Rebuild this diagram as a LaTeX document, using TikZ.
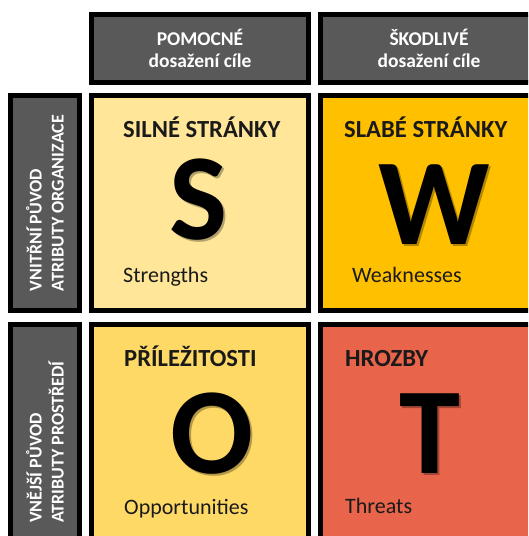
\documentclass[tikz,border=0pt]{standalone}
\usepackage{fontspec}
\setmainfont{Carlito}
\usetikzlibrary{positioning}
\definecolor{headgray}{HTML}{595959}
\definecolor{strengthfill}{HTML}{FFE699}
\definecolor{weakfill}{HTML}{FFC000}
\definecolor{oppfill}{HTML}{FFD966}
\definecolor{threatfill}{HTML}{E8644A}
\definecolor{ink}{HTML}{1A1A1A}
% big letter with a soft cast shade behind it
\newcommand\shadedletter[2]{%
  \makebox[0pt][l]{\hspace{2pt}\raisebox{-2pt}{\color{black!30!#1}#2}}#2}

\begin{document}
\begin{tikzpicture}[
    x = 1pt, y = -1pt,
    cell/.style={rectangle, draw=black, line width=5pt, inner sep=0pt},
    headbox/.style={cell, fill=headgray, minimum width=217pt, minimum height=68pt},
    sidebox/.style={cell, fill=headgray, minimum width=69pt},
    quad/.style={cell, minimum width=217pt},
    headtext/.style={text=white, align=center, inner sep=0pt,
        font=\bfseries\fontsize{19.5}{22}\selectfont},
    sidetext/.style={text=white, align=left, inner sep=0pt, rotate=90,
        font=\bfseries\fontsize{18}{22}\selectfont},
    title/.style={text=ink, inner sep=0pt, anchor=base west,
        font=\bfseries\fontsize{24.6}{28}\selectfont},
    subtitle/.style={text=ink, inner sep=0pt, anchor=base west,
        font=\fontsize{22}{26}\selectfont},
    letter/.style={text=black, inner sep=0pt, anchor=base,
        font=\bfseries\fontsize{123}{130}\selectfont}
]
    \useasboundingbox (0,0) rectangle (528,536);
    \clip (0,0) rectangle (528,536);

    % column headers
    \node[headbox] (help) at (200,48.5) {};
    \node[headbox] (harm) at (429,48.5) {};
    \node[headtext] (help-txt) at (help) {POMOCNÉ\\dosažení cíle};
    \node[headtext] (harm-txt) at (harm) {ŠKODLIVÉ\\dosažení cíle};

    % row headers
    \node[sidebox, minimum height=215pt] (inner) at (45,203) {};
    \node[sidebox, minimum height=235pt] (outer) at (45,442) {};
    \node[sidetext] (inner-txt) at (inner) {VNITŘNÍ PŮVOD\\ATRIBUTY ORGANIZACE};
    \node[sidetext] (outer-txt) at (outer) {VNĚJŠÍ PŮVOD\\ATRIBUTY PROSTŘEDÍ};

    % the four fields
    \node[quad, fill=strengthfill, minimum height=215pt] (S) at (200,203) {};
    \node[quad, fill=weakfill, minimum height=215pt] (W) at (429,203) {};
    \node[quad, fill=oppfill, minimum height=235pt] (O) at (200,442) {};
    \node[quad, fill=threatfill, minimum height=235pt] (T) at (429,442) {};

    % strengths
    \node[title] (S-title) at (123,137) {SILNÉ STRÁNKY};
    \node[letter] (S-letter) at (199,239) {\shadedletter{strengthfill}{S}};
    \node[subtitle] (S-sub) at (123,282) {Strengths};

    % weaknesses
    \node[title] (W-title) at (344,137) {SLABÉ STRÁNKY};
    \node[letter] (W-letter) at (434,244) {\shadedletter{weakfill}{W}};
    \node[subtitle] (W-sub) at (352,282) {Weaknesses};

    % opportunities
    \node[title] (O-title) at (124,366) {PŘÍLEŽITOSTI};
    \node[letter] (O-letter) at (212,473) {\shadedletter{oppfill}{O}};
    \node[subtitle] (O-sub) at (124,514) {Opportunities};

    % threats
    \node[title] (T-title) at (345,366) {HROZBY};
    \node[letter] (T-letter) at (430,473) {\shadedletter{threatfill}{T}};
    \node[subtitle] (T-sub) at (345,513) {Threats};
\end{tikzpicture}
\end{document}
